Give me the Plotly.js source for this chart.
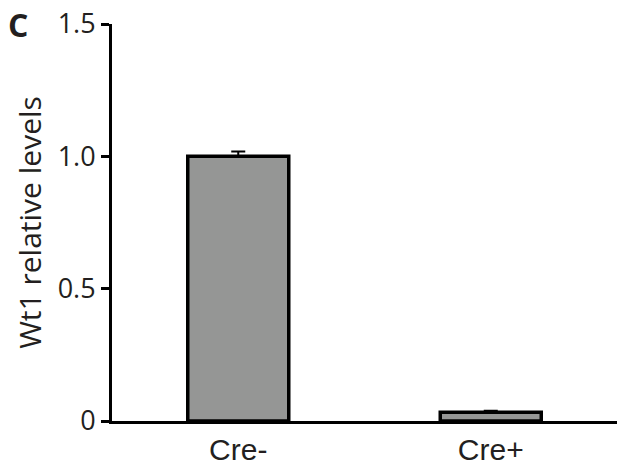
<!DOCTYPE html>
<html>
<head>
<meta charset="utf-8">
<script src="https://cdn.plot.ly/plotly-3.0.1.min.js"></script>
<style>html,body{margin:0;padding:0;background:#fff;}#chart{width:618px;height:471px;}</style>
</head>
<body>
<div id="chart"></div>
<script>
const categories = ["Cre-", "Cre+"];
const values = [1.0, 0.033];
const errorsUp = [0.018, 0.006];
const errorsDown = [0, 0];
const yTickVals = [0, 0.5, 1.0, 1.5];
const yTickText = ["0", "0.5", "1.0", "1.5"];
const yTitle = "Wt1 relative levels";
const panelLabel = "C";

const ink = "#231f20";
const trace = {
  type: "bar",
  x: categories,
  y: values,
  width: 0.4,
  marker: {color: "#959695", line: {color: "#000", width: 3.5}},
  error_y: {type: "data", symmetric: false, array: errorsUp, arrayminus: errorsDown, visible: true, color: "#000", thickness: 2, width: 7},
  hoverinfo: "none"
};

const layout = {
  width: 618, height: 471,
  margin: {l: 112, r: 1, t: 24, b: 50},
  paper_bgcolor: "#fff", plot_bgcolor: "#fff",
  showlegend: false,
  xaxis: {
    type: "category",
    range: [-0.5, 1.5],
    showline: true, linewidth: 3, linecolor: "#000",
    ticks: "", showgrid: false, zeroline: false,
    tickfont: {family: "Liberation Sans, Arial, sans-serif", size: 30, color: ink},
    fixedrange: true
  },
  yaxis: {
    range: [0, 1.5],
    showline: true, linewidth: 3, linecolor: "#000",
    ticks: "outside", ticklen: 8, tickwidth: 3, tickcolor: "#000",
    tickvals: yTickVals, ticktext: yTickText,
    showgrid: false, zeroline: false,
    tickfont: {family: "Open Sans, sans-serif", size: 27, color: ink},
    title: {text: yTitle, font: {family: "Open Sans, sans-serif", size: 30, color: ink}, standoff: 8},
    fixedrange: true
  },
  annotations: [{
    text: "<b>" + panelLabel + "</b>",
    xref: "paper", yref: "paper",
    x: -0.21, y: 1.0, xanchor: "left", yanchor: "middle",
    showarrow: false,
    font: {family: "Open Sans, sans-serif", size: 32, color: ink}
  }]
};

Plotly.newPlot("chart", [trace], layout, {displayModeBar: false, staticPlot: true});
</script>
</body>
</html>
